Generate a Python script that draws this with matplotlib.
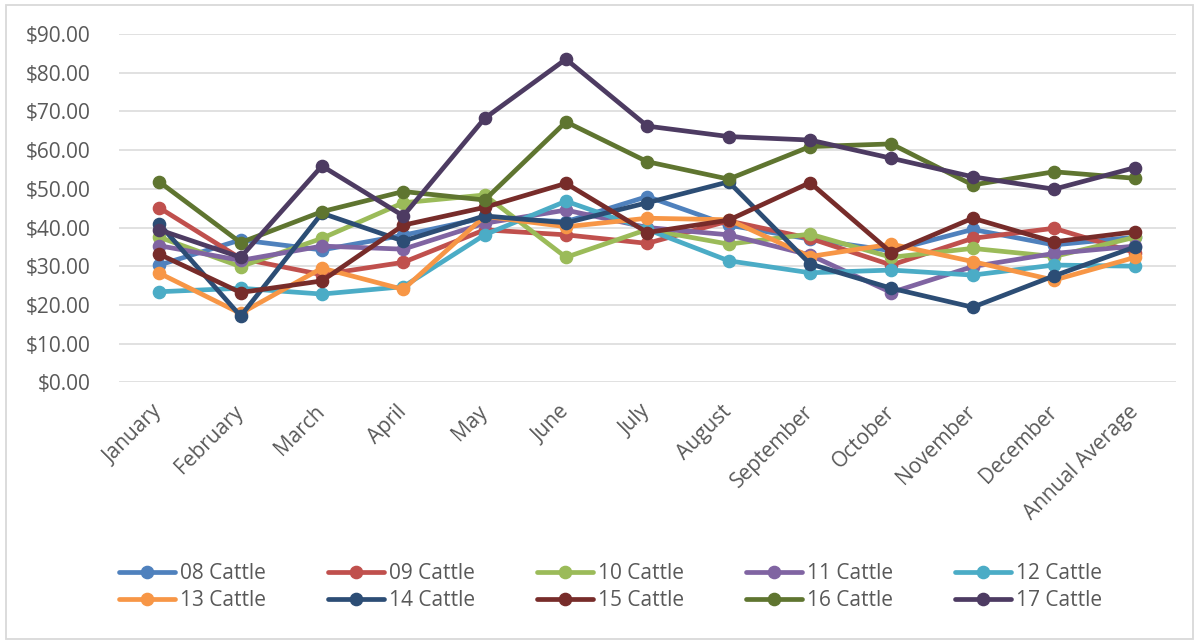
import matplotlib
matplotlib.use("Agg")
import matplotlib.pyplot as plt
from matplotlib.patches import Rectangle

months = ["January", "February", "March", "April", "May", "June", "July",
          "August", "September", "October", "November", "December", "Annual Average"]

cattle_08 = [30.3, 36.8, 34.2, 38.0, 42.5, 41.5, 48.0, 40.6, 37.0, 34.0, 39.5, 35.5, 37.5]
cattle_09 = [45.1, 32.0, 27.8, 31.0, 39.4, 38.1, 35.9, 41.7, 37.2, 30.3, 37.2, 39.8, 33.5]
cattle_10 = [37.5, 29.9, 37.2, 46.4, 48.4, 32.3, 39.5, 35.7, 38.3, 32.3, 34.6, 32.5, 37.5]
cattle_11 = [35.3, 31.5, 35.2, 34.4, 41.1, 44.5, 40.0, 38.1, 32.9, 23.2, 29.9, 33.3, 35.2]
cattle_12 = [23.4, 24.3, 22.8, 24.7, 38.1, 46.8, 39.5, 31.4, 28.3, 29.0, 27.7, 30.3, 30.0]
cattle_13 = [28.2, 17.8, 29.5, 24.0, 42.9, 40.2, 42.4, 42.0, 32.5, 35.7, 31.2, 26.4, 32.3]
cattle_14 = [40.9, 17.1, 43.7, 36.5, 43.0, 41.2, 46.4, 51.8, 30.6, 24.3, 19.4, 27.5, 35.0]
cattle_15 = [33.1, 23.2, 26.2, 40.6, 45.2, 51.4, 38.7, 41.9, 51.6, 33.5, 42.4, 36.3, 38.9]
cattle_16 = [51.8, 36.1, 44.1, 49.3, 47.1, 67.3, 57.0, 52.5, 60.9, 61.6, 51.0, 54.4, 52.7]
cattle_17 = [39.4, 32.3, 55.9, 43.0, 68.2, 83.5, 66.2, 63.5, 62.6, 57.9, 53.1, 49.9, 55.5]

series_names = ["08 Cattle", "09 Cattle", "10 Cattle", "11 Cattle", "12 Cattle",
                "13 Cattle", "14 Cattle", "15 Cattle", "16 Cattle", "17 Cattle"]
series_values = [cattle_08, cattle_09, cattle_10, cattle_11, cattle_12,
                 cattle_13, cattle_14, cattle_15, cattle_16, cattle_17]
colors = ["#4F81BD", "#C0504D", "#9BBB59", "#8064A2", "#4BACC6",
          "#F79646", "#2C4D75", "#772C2A", "#5F7530", "#4D3B62"]

y_ticks = [0, 10, 20, 30, 40, 50, 60, 70, 80, 90]

text_color = "#595959"
grid_color = "#D9D9D9"
plt.rcParams["font.family"] = ["Open Sans", "DejaVu Sans"]

W, H = 1199, 644
fig = plt.figure(figsize=(W / 100, H / 100), dpi=100)
fig.patch.set_facecolor("white")

# chart-area outline
fig.patches.append(Rectangle((6 / W, 5 / H), (1193 - 6) / W, (639 - 5) / H,
                             transform=fig.transFigure, fill=False,
                             edgecolor=grid_color, linewidth=1.3))

ax = fig.add_axes([118.6 / W, 1 - 382.3 / H, (1176 - 118.6) / W, (382.3 - 34) / H])
x = list(range(len(months)))

handles = []
for name, vals, c in zip(series_names, series_values, colors):
    h, = ax.plot(x, vals, color=c, linewidth=3.4, marker="o", markersize=8.8,
                 markerfacecolor=c, markeredgecolor=c, label=name,
                 solid_capstyle="round", solid_joinstyle="round", zorder=3)
    handles.append(h)

ax.set_xlim(-0.5, len(months) - 0.5)
ax.set_ylim(0, 90)
ax.set_yticks(y_ticks)
ax.set_yticklabels([f"${v:.2f}" for v in y_ticks])
ax.set_xticks(x)
ax.set_xticklabels(months, rotation=45, ha="right", va="center",
                   rotation_mode="anchor")

ax.grid(axis="y", color=grid_color, linewidth=1.1, zorder=0)
ax.set_axisbelow(True)
for s in ax.spines.values():
    s.set_visible(False)
ax.tick_params(axis="y", length=0, pad=20, labelsize=15, labelcolor=text_color)
ax.tick_params(axis="x", length=0, pad=19, labelsize=15, labelcolor=text_color)

# legend laid out row by row (5 per row)
order = [0, 5, 1, 6, 2, 7, 3, 8, 4, 9]
leg = fig.legend([handles[i] for i in order], [series_names[i] for i in order],
                 ncol=5, loc="center", bbox_to_anchor=(0.5 + 11 / W, 1 - 587 / H),
                 frameon=False, fontsize=15, labelcolor=text_color,
                 handlelength=2.7, handletextpad=0.2, columnspacing=3.0,
                 labelspacing=0.3, borderpad=0)

fig.savefig("out.png", dpi=100, facecolor="white")
